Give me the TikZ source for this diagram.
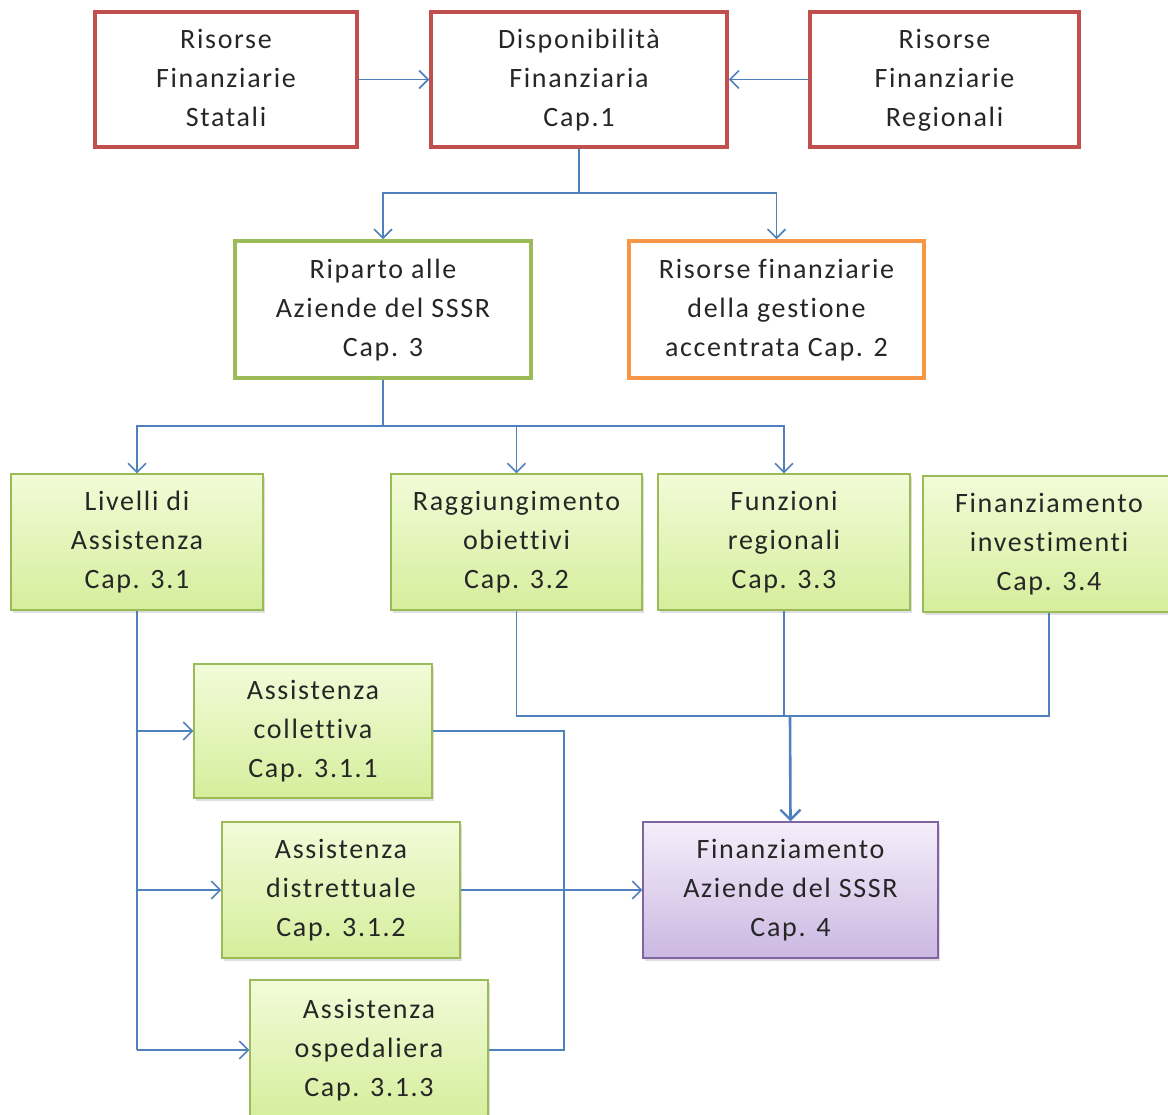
\documentclass[tikz,border=0pt]{standalone}
\usepackage{fontspec}
\setmainfont[LetterSpace=6,Ligatures=NoCommon]{Carlito}
\usetikzlibrary{arrows.meta,shadows}
\definecolor{cred}{HTML}{C0504D}
\definecolor{cgreen}{HTML}{9BBB59}
\definecolor{corange}{HTML}{F79646}
\definecolor{cblue}{HTML}{4F81BD}
\definecolor{cpurple}{HTML}{8064A2}
\definecolor{gtop}{HTML}{F2FBD8}
\definecolor{gbot}{HTML}{D5EE9C}
\definecolor{ptop}{HTML}{F5EEFA}
\definecolor{pbot}{HTML}{CBB8E2}
\newcommand\threel[3]{\strut #1\\#2\\#3\strut}
\tikzset{
  base/.style={align=center, inner sep=0pt, text=black!85,
    font=\fontsize{28}{39}\selectfont},
  redbox/.style={base, draw=cred, line width=3.5pt},
  greenbox/.style={base, draw=cgreen, line width=3.5pt},
  orangebox/.style={base, draw=corange, line width=3.5pt},
  lgbox/.style={base, draw=cgreen, line width=1.2pt, top color=gtop, bottom color=gbot,
    drop shadow={shadow xshift=2pt, shadow yshift=-3pt, opacity=0.25}},
  pbox/.style={base, draw=cpurple, line width=1.2pt, top color=ptop, bottom color=pbot,
    drop shadow={shadow xshift=2pt, shadow yshift=-3pt, opacity=0.25}},
  conn/.style={draw=cblue, line width=1.6pt},
  arr/.style={conn, -{Straight Barb[length=9pt,width=18pt,line width=1.6pt]}},
  bigarr/.style={draw=cblue, line width=2.6pt, -{Straight Barb[length=10pt,width=20pt,line width=2.4pt]}},
}
\begin{document}
\begin{tikzpicture}[x=1pt,y=-1pt]
\useasboundingbox (0,0) rectangle (1168,1115);
\clip (0,0) rectangle (1168,1115);
% top row
\node[redbox, minimum width=262pt, minimum height=135pt] (st) at (226,79.5) {\threel{Risorse}{Finanziarie}{Statali}};
\node[redbox, minimum width=296pt, minimum height=135pt] (dp) at (579,79.5) {\threel{Disponibilità}{Finanziaria}{Cap.1}};
\node[redbox, minimum width=269pt, minimum height=135pt] (rg) at (944.5,79.5) {\threel{Risorse}{Finanziarie}{Regionali}};
% second row
\node[greenbox, minimum width=296pt, minimum height=137pt] (rp) at (383,309.5) {\threel{Riparto alle}{Aziende del SSSR}{Cap. 3}};
\node[orangebox, minimum width=295pt, minimum height=137pt] (ga) at (776.5,309.5) {\threel{Risorse finanziarie}{della gestione}{accentrata Cap. 2}};
% third row
\node[lgbox, minimum width=252pt, minimum height=136pt] (la) at (137,542) {\threel{Livelli di}{Assistenza}{Cap. 3.1}};
\node[lgbox, minimum width=251pt, minimum height=136pt] (ro) at (516.5,542) {\threel{Raggiungimento}{obiettivi}{Cap. 3.2}};
\node[lgbox, minimum width=252pt, minimum height=136pt] (fr) at (784,542) {\threel{Funzioni}{regionali}{Cap. 3.3}};
\node[lgbox, minimum width=252pt, minimum height=136pt] (fi) at (1049,544) {\threel{Finanziamento}{investimenti}{Cap. 3.4}};
% sub boxes
\node[lgbox, minimum width=238pt, minimum height=134pt] (ac) at (313,731) {\threel{Assistenza}{collettiva}{Cap. 3.1.1}};
\node[lgbox, minimum width=238pt, minimum height=136pt] (ad) at (341,890) {\threel{Assistenza}{distrettuale}{Cap. 3.1.2}};
\node[lgbox, minimum width=238pt, minimum height=140pt] (ao) at (369,1050) {\threel{Assistenza}{ospedaliera}{Cap. 3.1.3}};
\node[pbox, minimum width=295pt, minimum height=136pt] (c4) at (790.5,890) {\threel{Finanziamento}{Aziende del SSSR}{Cap. 4}};
% coordinates
\coordinate (j1) at (579,193);
\coordinate (j2) at (383,426);
\coordinate (j3) at (790,716);
\coordinate (j4) at (564,890);
% connectors top
\draw[arr] (st.east) -- (dp.west);
\draw[arr] (rg.west) -- (dp.east);
\draw[conn] (dp.south) -- (j1);
\draw[arr] (j1) -| (rp.north);
\draw[arr] (j1) -| (ga.north);
% riparto to third row
\draw[conn] (rp.south) -- (j2);
\draw[arr] (j2) -| (la.north);
\draw[arr] (j2) -| (ro.north);
\draw[arr] (j2) -| (fr.north);
% third row to cap 4
\draw[conn] (ro.south) |- (j3);
\draw[conn] (fr.south) -- (fr.south |- j3);
\draw[conn] (fi.south) |- (j3);
\draw[bigarr] (j3) -- (c4.north);
% livelli to sub boxes
\draw[conn] (la.south) -- (la.south |- ao.west);
\draw[arr] (la.south |- ac.west) -- (ac.west);
\draw[arr] (la.south |- ad.west) -- (ad.west);
\draw[arr] (la.south |- ao.west) -- (ao.west);
% sub boxes to cap 4
\draw[conn] (ac.east) -| (j4);
\draw[conn] (ao.east) -| (j4);
\draw[arr] (ad.east) -- (c4.west);
\end{tikzpicture}
\end{document}
